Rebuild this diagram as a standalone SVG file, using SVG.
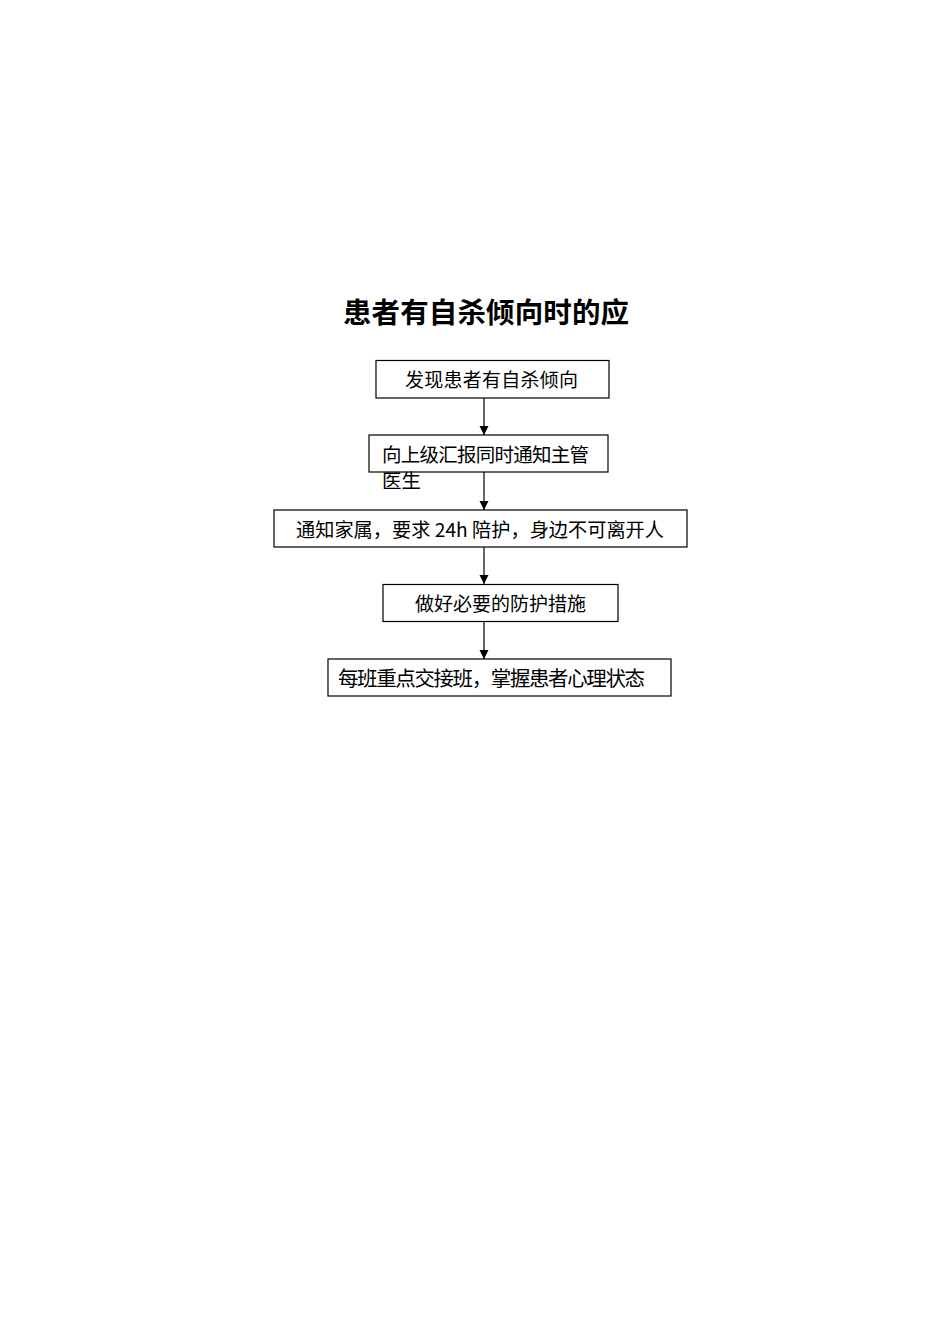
<svg xmlns="http://www.w3.org/2000/svg" width="950" height="1344" viewBox="0 0 950 1344">
<style>
.box{fill:#fff;stroke:#000;stroke-width:1.2}
.t{font-family:"Noto Sans CJK SC","Liberation Sans",sans-serif;fill:#000}
.title{font-family:"Noto Sans CJK SC","Liberation Sans",sans-serif;font-weight:bold;font-size:28.5px;fill:#000}
.ln{stroke:#000;stroke-width:1.2;fill:none}
</style>
<defs>
<marker id="arr" markerWidth="10" markerHeight="10" refX="9" refY="5" orient="auto" markerUnits="userSpaceOnUse">
<path d="M0,0.5 L9,5 L0,9.5 Z" fill="#000"/>
</marker>
</defs>
<rect width="950" height="1344" fill="#fff"/>
<text class="title" x="343" y="323" textLength="286">患者有自杀倾向时的应</text>
<g id="connectors">
<line class="ln" x1="484" y1="398" x2="484" y2="435" marker-end="url(#arr)"/>
<line class="ln" x1="484" y1="472" x2="484" y2="510" marker-end="url(#arr)"/>
<line class="ln" x1="484" y1="547" x2="484" y2="584" marker-end="url(#arr)"/>
<line class="ln" x1="484" y1="621" x2="484" y2="659" marker-end="url(#arr)"/>
</g>
<g id="n1">
<rect class="box" x="376" y="360.5" width="233" height="37.5"/>
<text class="t" x="405" y="387" font-size="19" textLength="173">发现患者有自杀倾向</text>
</g>
<g id="n2">
<rect class="box" x="369" y="435" width="239" height="37"/>
<text class="t" font-size="19.5"><tspan x="382" y="461.5" textLength="207">向上级汇报同时通知主管</tspan><tspan x="382" y="487.5">医生</tspan></text>
</g>
<g id="n3">
<rect class="box" x="274" y="510" width="413" height="37"/>
<text class="t" x="296" y="537" font-size="19.2" textLength="368">通知家属，要求 24h 陪护，身边不可离开人</text>
</g>
<g id="n4">
<rect class="box" x="383" y="584.5" width="235" height="37"/>
<text class="t" x="415" y="611" font-size="19" textLength="171">做好必要的防护措施</text>
</g>
<g id="n5">
<rect class="box" x="328" y="659" width="343" height="37"/>
<text class="t" x="338" y="686" font-size="20.5" textLength="307">每班重点交接班，掌握患者心理状态</text>
</g>
</svg>
